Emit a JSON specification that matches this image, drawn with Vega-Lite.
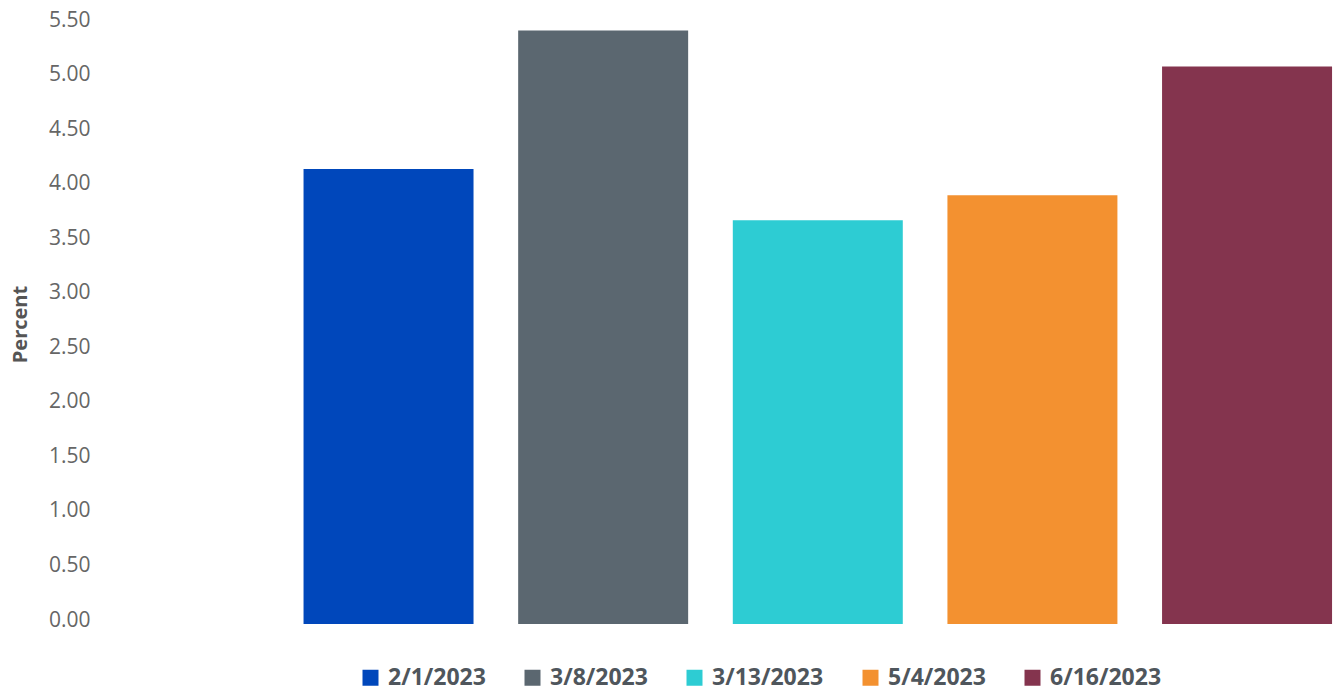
{
  "$schema": "https://vega.github.io/schema/vega-lite/v6.json",
  "autosize": {"type": "none"},
  "width": 1241,
  "height": 600,
  "padding": {"left": 97, "top": 24, "right": 0, "bottom": 69},
  "background": "#ffffff",
  "data": {
    "values": [
      {"date": "2/1/2023", "percent": 4.17},
      {"date": "3/8/2023", "percent": 5.44},
      {"date": "3/13/2023", "percent": 3.70},
      {"date": "5/4/2023", "percent": 3.93},
      {"date": "6/16/2023", "percent": 5.11}
    ]
  },
  "mark": {"type": "bar"},
  "encoding": {
    "x": {
      "field": "date",
      "type": "nominal",
      "sort": null,
      "axis": null,
      "scale": {"paddingInner": 0.208, "paddingOuter": 0.495, "align": 0.972}
    },
    "y": {
      "field": "percent",
      "type": "quantitative",
      "scale": {"domain": [0, 5.5], "nice": false},
      "axis": {
        "title": "Percent",
        "values": [0, 0.5, 1, 1.5, 2, 2.5, 3, 3.5, 4, 4.5, 5, 5.5],
        "format": ".2f",
        "grid": false,
        "domain": false,
        "ticks": false,
        "labelPadding": 7,
        "labelOffset": -4,
        "labelFont": "Open Sans",
        "labelFontSize": 21,
        "labelColor": "#666666",
        "titleFont": "Open Sans",
        "titleFontSize": 20,
        "titleFontWeight": "bold",
        "titleColor": "#555555",
        "titlePadding": 18
      }
    },
    "color": {
      "field": "date",
      "type": "nominal",
      "sort": null,
      "scale": {
        "domain": ["2/1/2023", "3/8/2023", "3/13/2023", "5/4/2023", "6/16/2023"],
        "range": ["#0047BB", "#5B6770", "#2DCCD3", "#F39130", "#84344E"]
      },
      "legend": {
        "title": null,
        "orient": "none",
        "direction": "horizontal",
        "legendX": 262,
        "legendY": 642,
        "symbolType": "square",
        "symbolSize": 256,
        "symbolStrokeWidth": 0,
        "symbolOpacity": 1,
        "labelFont": "Open Sans",
        "labelFontSize": 23,
        "labelFontWeight": "bold",
        "labelColor": "#4f565c",
        "labelOffset": 6,
        "columnPadding": 35,
        "labelLimit": 300
      }
    }
  },
  "config": {"view": {"stroke": null}}
}
